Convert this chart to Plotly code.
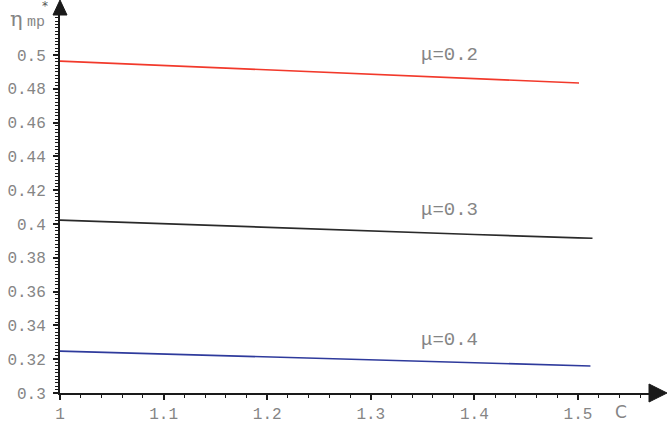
import plotly.graph_objects as go

# ---- data ----
x_red = [1.0, 1.1, 1.2, 1.3, 1.4, 1.501]
y_red = [0.4964, 0.4938, 0.4912, 0.4886, 0.4860, 0.4834]
x_black = [1.0, 1.1, 1.2, 1.3, 1.4, 1.5, 1.514]
y_black = [0.4023, 0.4001, 0.3980, 0.3959, 0.3938, 0.3918, 0.3916]
x_blue = [1.0, 1.1, 1.2, 1.3, 1.4, 1.5, 1.512]
y_blue = [0.3248, 0.3230, 0.3212, 0.3195, 0.3178, 0.3162, 0.3160]
series_labels = ["μ=0.2", "μ=0.3", "μ=0.4"]
label_pos = [(1.3755, 0.5000), (1.3755, 0.4083), (1.3755, 0.3313)]
x_tickvals = [1.0, 1.1, 1.2, 1.3, 1.4, 1.5]
x_ticktext = ["1", "1.1", "1.2", "1.3", "1.4", "1.5"]
y_tickvals = [0.30, 0.32, 0.34, 0.36, 0.38, 0.40, 0.42, 0.44, 0.46, 0.48, 0.50]
y_ticktext = ["0.3", "0.32", "0.34", "0.36", "0.38", "0.4", "0.42", "0.44", "0.46", "0.48", "0.5"]

W, H = 671, 435
L, R, T, B = 60, 16, 12, 42
pw, ph = W - L - R, H - T - B
px_per_unit_x = 1036.0
px_per_unit_y = 338.0 / 0.2
x_range = [1.0, 1.0 + pw / px_per_unit_x]
y_range = [0.3, 0.3 + ph / px_per_unit_y]

def pxx(p):
    return (p - L) / pw

def pxy(p):
    return (H - B - p) / ph

fig = go.Figure()
for xs, ys, col in [(x_red, y_red, "#f2392b"), (x_black, y_black, "#2a2a2a"), (x_blue, y_blue, "#2e3a9c")]:
    fig.add_trace(go.Scatter(x=xs, y=ys, mode="lines", line=dict(color=col, width=1.6),
                             showlegend=False, hoverinfo="skip"))

mono = "'Liberation Mono', 'DejaVu Sans Mono', monospace"
gray = "#858585"
for txt, (lx, ly) in zip(series_labels, label_pos):
    fig.add_annotation(x=lx, y=ly, text=txt, showarrow=False, xanchor="center", yanchor="middle",
                       font=dict(family=mono, size=19, color=gray))

# axis arrows
fig.add_shape(type="path", xref="paper", yref="paper",
              path=f"M {pxx(53)} {pxy(15)} L {pxx(60)} {pxy(0)} L {pxx(67)} {pxy(15)} Z",
              fillcolor="#1a1a1a", line=dict(color="#1a1a1a", width=1))
fig.add_shape(type="line", xref="paper", yref="paper", x0=pxx(60), x1=pxx(60), y0=pxy(T), y1=pxy(10),
              line=dict(color="#1a1a1a", width=2))
fig.add_shape(type="path", xref="paper", yref="paper",
              path=f"M {pxx(649)} {pxy(384)} L {pxx(667)} {pxy(393)} L {pxx(649)} {pxy(402)} Z",
              fillcolor="#1a1a1a", line=dict(color="#1a1a1a", width=1))

# axis titles
fig.add_annotation(xref="paper", yref="paper", x=pxx(16), y=pxy(19), text="η", showarrow=False,
                   xanchor="center", yanchor="middle", font=dict(family="DejaVu Serif", size=21, color=gray))
fig.add_annotation(xref="paper", yref="paper", x=pxx(36), y=pxy(23), text="mp", showarrow=False,
                   xanchor="center", yanchor="middle", font=dict(family=mono, size=15, color=gray))
fig.add_annotation(xref="paper", yref="paper", x=pxx(45), y=pxy(6), text="*", showarrow=False,
                   xanchor="center", yanchor="middle", font=dict(family="DejaVu Sans", size=12, color="#555555"))
fig.add_annotation(xref="paper", yref="paper", x=pxx(621), y=pxy(412), text="C", showarrow=False,
                   xanchor="center", yanchor="middle", font=dict(family="DejaVu Sans", size=17, color=gray))

fig.update_xaxes(range=x_range, showgrid=False, zeroline=False, showline=True, linecolor="#1a1a1a", linewidth=2,
                 automargin=False,
                 tickvals=x_tickvals, ticktext=x_ticktext, ticks="outside", ticklen=5, tickwidth=1.5,
                 tickcolor="#1a1a1a", tickfont=dict(family=mono, size=16, color=gray),
                 minor=dict(dtick=0.02, tick0=1.0, ticks="outside", ticklen=3, tickcolor="#1a1a1a", tickwidth=1.2))
fig.update_yaxes(range=y_range, showgrid=False, zeroline=False, showline=True, linecolor="#1a1a1a", linewidth=2,
                 automargin=False,
                 tickvals=y_tickvals, ticktext=y_ticktext, ticks="outside", ticklen=5, tickwidth=1.5,
                 ticklabelstandoff=4,
                 tickcolor="#1a1a1a", tickfont=dict(family=mono, size=16, color=gray),
                 minor=dict(dtick=0.002, tick0=0.3, ticks="outside", ticklen=3, tickcolor="#1a1a1a", tickwidth=1.2))
fig.update_layout(width=W, height=H, margin=dict(l=L, r=R, t=T, b=B, autoexpand=False), plot_bgcolor="white",
                  paper_bgcolor="white")
fig.write_html("out.html")
